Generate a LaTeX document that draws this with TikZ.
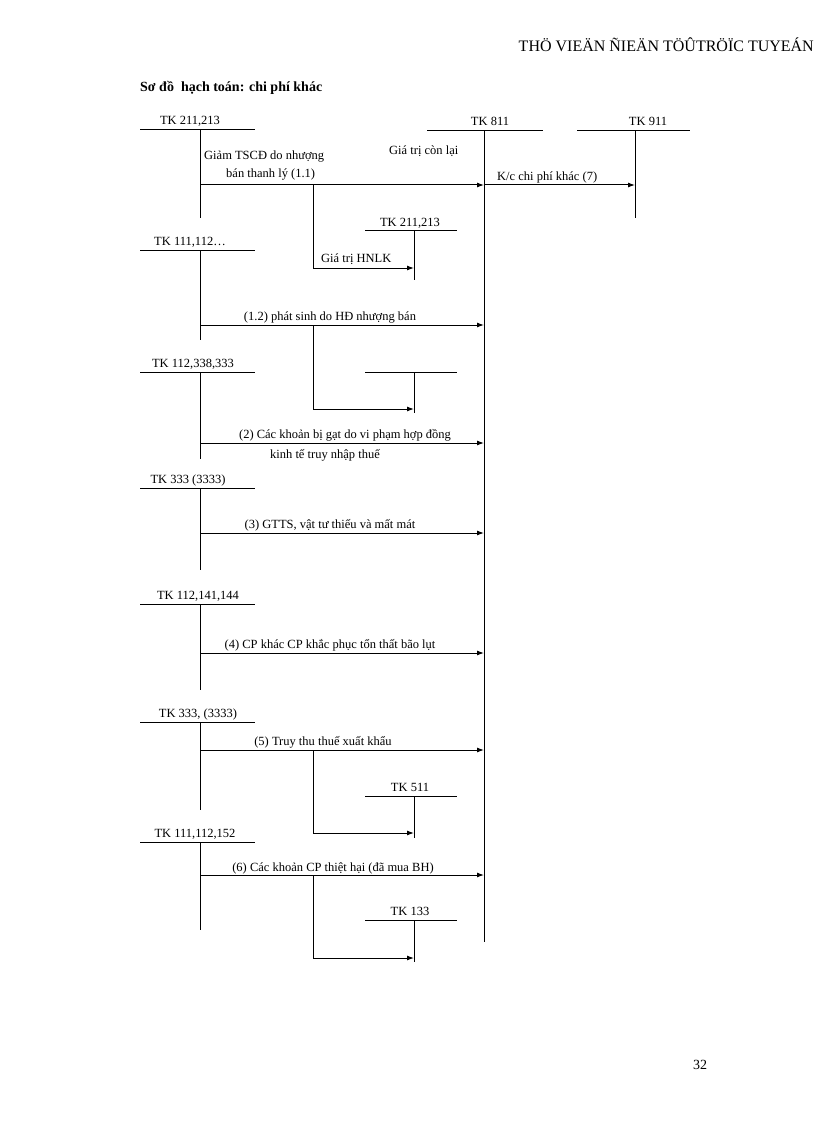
\documentclass[tikz,border=0pt]{standalone}
\usepackage{fontspec}
\setmainfont{Liberation Serif}
\usetikzlibrary{arrows.meta}
\begin{document}
\begin{tikzpicture}[x=1pt,y=-1pt,
  ln/.style={line width=1pt},
  ar/.style={line width=1pt,-{Latex[length=7pt,width=5pt]}},
  lbl/.style={inner sep=0pt,font=\fontsize{12.5}{14}\selectfont},
  acc/.style={lbl,anchor=base}]
\useasboundingbox (0,0) rectangle (816,1123);
\node[lbl,anchor=base east,font=\fontsize{16}{18}\selectfont] (hdr) at (814,52) {THÖ VIEÄN ÑIEÄN TÖÛTRÖÏC TUYEÁN};
\node[lbl,anchor=base west,font=\fontsize{14}{16}\selectfont\bfseries] (ttl) at (140,92) {Sơ đồ\ \ hạch toán: chi phí khác};
\node[lbl,anchor=base,font=\fontsize{14}{16}\selectfont] (pg) at (700,1069) {32};
% T-accounts: name, x1,x2, y, vx, vbottom, label
\newcommand{\tacc}[8]{%
  \coordinate (#1l) at (#2,#4); \coordinate (#1r) at (#3,#4);
  \coordinate (#1t) at (#5,#4); \coordinate (#1b) at (#5,#6);
  \draw[ln] (#1l) -- (#1r); \draw[ln] (#1t) -- (#1b);
  \node[acc] (#1n) at (#7,#4-5) {#8};}
\tacc{a}{140}{255}{130}{200}{218}{190}{TK 211,213}
\tacc{m}{427}{543}{131}{484}{942}{490}{TK 811}
\tacc{n}{577}{690}{131}{635}{218}{648}{TK 911}
\tacc{s}{365}{457}{231}{414}{280}{410}{TK 211,213}
\tacc{b}{140}{255}{250}{200}{340}{190}{TK 111,112…}
\tacc{t}{365}{457}{372}{414}{413}{410}{}
\tacc{c}{140}{255}{372}{200}{459}{193}{TK 112,338,333}
\tacc{d}{140}{255}{488}{200}{570}{188}{TK 333 (3333)}
\tacc{e}{140}{255}{604}{200}{690}{198}{TK 112,141,144}
\tacc{f}{140}{255}{722}{200}{810}{198}{TK 333, (3333)}
\tacc{u}{365}{457}{796}{414}{838}{410}{TK 511}
\tacc{g}{140}{255}{842}{200}{930}{195}{TK 111,112,152}
\tacc{v}{365}{457}{920}{414}{962}{410}{TK 133}
% arrows
\newcommand{\flow}[3]{\coordinate (#1s) at (200,#2); \coordinate (#1e) at (484,#2); \draw[ar] (#1s) -- (#1e);}
\flow{p1}{185}{}
\flow{p2}{325}{}
\flow{p3}{443}{}
\flow{p4}{533}{}
\flow{p5}{653}{}
\flow{p6}{750}{}
\flow{p7}{875}{}
\coordinate (k1) at (635,185);
\draw[ar] (p1e) -- (k1);
\newcommand{\branch}[3]{\coordinate (#1a) at (313,#2); \coordinate (#1c) at (313,#3); \coordinate (#1d) at (414,#3);
  \draw[ar] (#1a) -- (#1c) -- (#1d);}
\branch{q1}{185}{268}
\branch{q2}{325}{409}
\branch{q3}{750}{833}
\branch{q4}{875}{958}
% labels
\node[lbl,anchor=base west] (l1) at (204,160) {Giảm TSCĐ do nhượng};
\node[lbl,anchor=base west] (l2) at (226,178) {bán thanh lý (1.1)};
\node[lbl,anchor=base west] (l3) at (389,155) {Giá trị còn lại};
\node[lbl,anchor=base west] (l4) at (497,181) {K/c chi phí khác (7)};
\node[lbl,anchor=base west] (l5) at (321,262) {Giá trị HNLK};
\node[lbl,anchor=base] (l6) at (330,320) {(1.2) phát sinh do HĐ nhượng bán};
\node[lbl,anchor=base] (l7) at (345,438) {(2) Các khoản bị gạt do vi phạm hợp đồng};
\node[lbl,anchor=base] (l8) at (325,458) {kinh tế truy nhập thuế};
\node[lbl,anchor=base] (l9) at (330,528) {(3) GTTS, vật tư thiếu và mất mát};
\node[lbl,anchor=base] (l10) at (330,648) {(4) CP khác CP khắc phục tổn thất bão lụt};
\node[lbl,anchor=base] (l11) at (323,745) {(5) Truy thu thuế xuất khẩu};
\node[lbl,anchor=base] (l12) at (333,871) {(6) Các khoản CP thiệt hại (đã mua BH)};
\end{tikzpicture}
\end{document}
